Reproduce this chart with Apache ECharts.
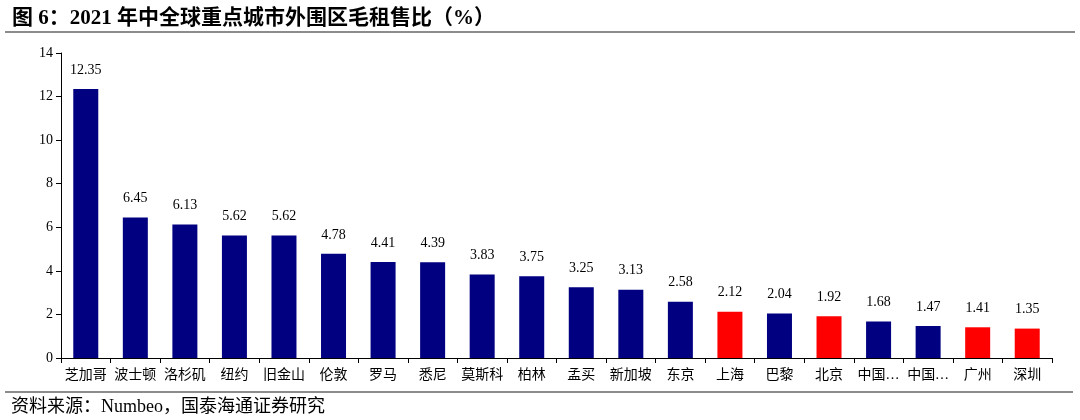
<!DOCTYPE html>
<html><head><meta charset="utf-8">
<script src="https://cdn.jsdelivr.net/npm/echarts@6/dist/echarts.min.js"></script>
<style>html,body{margin:0;padding:0;background:#fff}#c{width:1080px;height:420px}</style>
</head><body><div id="c"></div>
<script>
const categories = ['芝加哥','波士顿','洛杉矶','纽约','旧金山','伦敦','罗马','悉尼','莫斯科','柏林','孟买','新加坡','东京','上海','巴黎','北京','中国…','中国…','广州','深圳'];
const values = [12.35,6.45,6.13,5.62,5.62,4.78,4.41,4.39,3.83,3.75,3.25,3.13,2.58,2.12,2.04,1.92,1.68,1.47,1.41,1.35];
const chinaCities = ['上海','北京','广州','深圳'];
const yTicks = [0,2,4,6,8,10,12,14];
const font = '"Liberation Serif","Noto Sans CJK SC",serif';
const chart = echarts.init(document.getElementById('c'));
chart.setOption({
  animation:false,
  backgroundColor:'#fff',
  title:[{text:'图 6：2021 年中全球重点城市外围区毛租售比（%）',left:7,top:3,textStyle:{fontFamily:font,fontSize:21,fontWeight:'bold',color:'#000'}},
         {text:'资料来源：Numbeo，国泰海通证券研究',left:6,top:393,textStyle:{fontFamily:font,fontSize:18,fontWeight:'normal',color:'#000'}}],
  graphic:[
    {type:'line',shape:{x1:5,y1:32,x2:1075,y2:32},style:{stroke:'#666',lineWidth:1.5}},
    {type:'line',shape:{x1:5,y1:392,x2:1073,y2:392},style:{stroke:'#666',lineWidth:1.5}}
  ],
  grid:{left:61,right:28,top:53,bottom:62},
  xAxis:{type:'category',data:categories,
    axisLine:{lineStyle:{color:'#000',width:1}},
    axisTick:{show:true,length:5,lineStyle:{color:'#000'}},
    axisLabel:{interval:0,fontFamily:font,fontSize:14,color:'#000',margin:10}},
  yAxis:{type:'value',min:yTicks[0],max:yTicks[yTicks.length-1],interval:2,
    splitLine:{show:false},
    axisLine:{show:true,lineStyle:{color:'#000',width:1}},
    axisTick:{show:true,length:5,lineStyle:{color:'#000'}},
    axisLabel:{fontFamily:font,fontSize:14,color:'#000',margin:8}},
  series:[{type:'bar',barWidth:25,
    data:values.map((v,i)=>({value:v,itemStyle:{color:chinaCities.includes(categories[i])?'#FF0000':'#000080'}})),
    label:{show:true,position:'top',distance:12,fontFamily:font,fontSize:14,color:'#000',formatter:p=>p.value.toFixed(2)}
  }]
});
</script></body></html>
